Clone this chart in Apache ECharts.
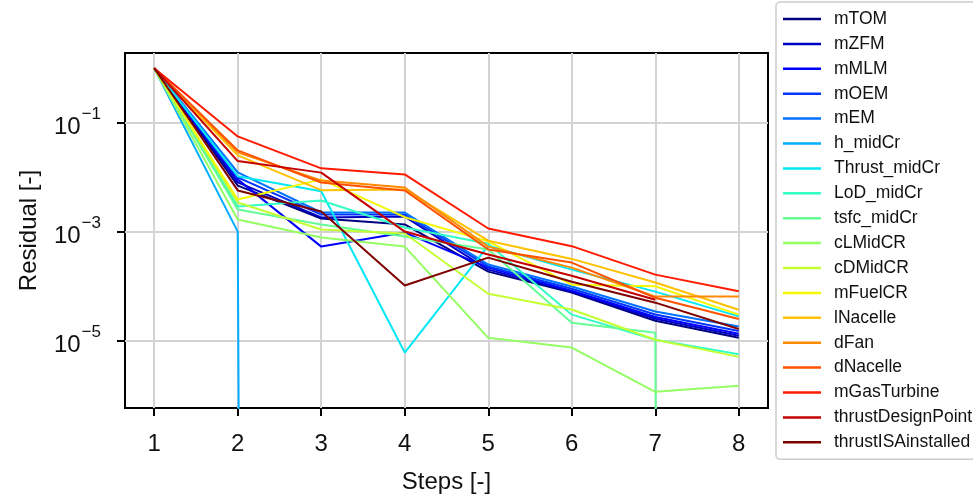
<!DOCTYPE html>
<html>
<head>
<meta charset="utf-8">
<script src="https://cdn.jsdelivr.net/npm/echarts@6/dist/echarts.min.js"></script>
<style>
  html, body { margin: 0; padding: 0; background: #ffffff; }
  #chart { width: 973px; height: 495px; }
</style>
</head>
<body>
<div id="chart"></div>
<script>
// Solver step index
const steps = [1, 2, 3, 4, 5, 6, 7, 8];

// Residual history per variable (a 0 means the residual vanished)
const mTOM              = [1, 7.0e-3, 1.74e-3, 1.35e-3, 1.84e-4, 7.6e-5, 2.3e-5, 1.12e-5];
const mZFM              = [1, 8.0e-3, 1.82e-3, 1.89e-3, 2.0e-4, 7.9e-5, 2.5e-5, 1.22e-5];
const mMLM              = [1, 9.1e-3, 5.3e-4, 9.6e-4, 2.18e-4, 8.2e-5, 2.7e-5, 1.33e-5];
const mOEM              = [1, 9.9e-3, 2.06e-3, 2.06e-3, 2.28e-4, 8.9e-5, 3.0e-5, 1.5e-5];
const mEM               = [1, 1.22e-2, 2.24e-3, 2.24e-3, 2.48e-4, 9.8e-5, 3.4e-5, 1.8e-5];
const h_midCr           = [1, 1.0e-3, 0];
const Thrust_midCr      = [1, 1.04e-2, 5.5e-3, 6.0e-6, 5.5e-4, 2.0e-4, 7.9e-5, 2.77e-5];
const LoD_midCr         = [1, 2.89e-3, 3.73e-3, 1.19e-3, 6.0e-4, 2.98e-5, 1.03e-5, 5.6e-6];
const tsfc_midCr        = [1, 2.55e-3, 1.35e-3, 8.1e-4, 4.7e-4, 2.12e-5, 1.39e-5, 0];
const cLMidCR           = [1, 1.67e-3, 7.8e-4, 5.3e-4, 1.12e-5, 7.4e-6, 1.14e-6, 1.47e-6];
const cDMidCR           = [1, 3.42e-3, 1.09e-3, 9.2e-4, 7.2e-5, 3.7e-5, 1.03e-5, 5.0e-6];
const mFuelCR           = [1, 3.89e-3, 9.1e-3, 1.84e-3, 6.6e-4, 1.06e-4, 9.9e-5, 2.98e-5];
const lNacelle          = [1, 2.51e-2, 5.77e-3, 5.94e-3, 6.8e-4, 3.15e-4, 1.16e-4, 3.68e-5];
const dFan              = [1, 2.85e-2, 8.7e-3, 6.46e-3, 5.3e-4, 2.18e-4, 6.4e-5, 6.4e-5];
const dNacelle          = [1, 3.1e-2, 7.98e-3, 5.7e-3, 4.7e-4, 2.7e-4, 6.1e-5, 2.48e-5];
const mGasTurbine       = [1, 5.6e-2, 1.45e-2, 1.12e-2, 1.14e-3, 5.4e-4, 1.62e-4, 8.0e-5];
const thrustDesignPoint = [1, 1.97e-2, 1.21e-2, 1.0e-3, 3.8e-4, 1.55e-4, 5.6e-5];
const thrustISAinstalled= [1, 5.7e-3, 2.34e-3, 1.02e-4, 3.33e-4, 1.2e-4, 4.95e-5, 1.63e-5];

const seriesNames = ['mTOM', 'mZFM', 'mMLM', 'mOEM', 'mEM', 'h_midCr', 'Thrust_midCr',
  'LoD_midCr', 'tsfc_midCr', 'cLMidCR', 'cDMidCR', 'mFuelCR', 'lNacelle', 'dFan',
  'dNacelle', 'mGasTurbine', 'thrustDesignPoint', 'thrustISAinstalled'];
const seriesValues = [mTOM, mZFM, mMLM, mOEM, mEM, h_midCr, Thrust_midCr, LoD_midCr,
  tsfc_midCr, cLMidCR, cDMidCR, mFuelCR, lNacelle, dFan, dNacelle, mGasTurbine,
  thrustDesignPoint, thrustISAinstalled];

// Jet colormap sampled at 18 evenly spaced points
const jetColors = ['#000080', '#0000c4', '#0000ff', '#0035ff', '#0071ff', '#00adff',
  '#02e8f4', '#33ffc4', '#63ff94', '#94ff63', '#c4ff33', '#f4f802', '#ffc100',
  '#ff8900', '#ff5200', '#ff1a00', '#c40000', '#800000'];

// Decade tick labels on the residual axis (exponents)
const yTickExponents = [-5, -3, -1];

// Residual axis is drawn in log10 space; non-positive values are clipped far below
const toLog = v => (v > 0 ? Math.log10(v) : -300);
const yLogMin = -6.24, yLogMax = 0.28;
const xMin = 0.65, xMax = 8.35;

const FONT = '"Liberation Sans", Arial, sans-serif';
const INK = '#111111';

const lineSeries = seriesNames.map((name, i) => ({
  name: name,
  type: 'line',
  data: seriesValues[i].map((v, k) => [steps[k], toLog(v)]),
  symbol: 'none',
  showSymbol: false,
  clip: true,
  z: 3,
  lineStyle: { color: jetColors[i], width: 2 },
  itemStyle: { color: jetColors[i] },
  emphasis: { disabled: true }
}));

// Grid lines at the labelled ticks, kept underneath the data lines
const gridSeries = {
  name: '__grid',
  type: 'line',
  data: [],
  z: 1,
  silent: true,
  markLine: {
    z: 1,
    silent: true,
    symbol: ['none', 'none'],
    animation: false,
    label: { show: false },
    lineStyle: { color: '#d3d3d3', width: 2, type: 'solid' },
    emphasis: { disabled: true },
    data: steps.map(s => ({ xAxis: s })).concat(yTickExponents.map(e => ({ yAxis: e })))
  }
};

const chart = echarts.init(document.getElementById('chart'), null, { renderer: 'canvas' });
chart.setOption({
  animation: false,
  backgroundColor: '#ffffff',
  textStyle: { fontFamily: FONT },
  grid: {
    left: 125, top: 53, right: 205, bottom: 87,
    containLabel: false,
    outerBoundsMode: 'none',
    show: true, borderColor: '#000000', borderWidth: 2, backgroundColor: 'transparent'
  },
  legend: {
    data: seriesNames,
    orient: 'vertical',
    left: 776, top: 2,
    padding: [8, 14, 8, 7],
    itemGap: 6.9,
    itemWidth: 38,
    itemHeight: 2.5,
    icon: 'path://M0,0 H38 V2.5 H0 Z',
    borderColor: '#cccccc',
    borderWidth: 1.5,
    borderRadius: 4,
    backgroundColor: '#ffffff',
    selectedMode: false,
    textStyle: { fontSize: 17.5, lineHeight: 17, color: INK, fontFamily: FONT, padding: [0, 0, 0, 8] }
  },
  xAxis: {
    type: 'value',
    min: xMin, max: xMax,
    name: 'Steps [-]',
    nameLocation: 'middle',
    nameGap: 62,
    nameTextStyle: { fontSize: 24, color: INK, fontFamily: FONT },
    axisLine: { show: true, onZero: false, lineStyle: { color: '#000000', width: 2 } },
    axisTick: { show: true, inside: false, length: 8, customValues: steps, lineStyle: { color: '#000000', width: 2 } },
    axisLabel: { show: true, margin: 24, fontSize: 24, color: INK, fontFamily: FONT, customValues: steps },
    splitLine: { show: false }
  },
  yAxis: {
    type: 'value',
    min: yLogMin, max: yLogMax,
    name: 'Residual [-]',
    nameLocation: 'middle',
    nameRotate: 90,
    nameGap: 84,
    nameTextStyle: { fontSize: 24, color: INK, fontFamily: FONT },
    axisLine: { show: true, onZero: false, lineStyle: { color: '#000000', width: 2 } },
    axisTick: { show: true, inside: false, length: 8, customValues: yTickExponents, lineStyle: { color: '#000000', width: 2 } },
    axisLabel: {
      show: true, margin: 24, customValues: yTickExponents,
      formatter: v => '{b|10}{s|\u2212' + Math.abs(Math.round(v)) + '}',
      rich: {
        b: { fontSize: 24, color: INK, fontFamily: FONT, lineHeight: 34, verticalAlign: 'bottom', padding: [14, 0, 0, 0] },
        s: { fontSize: 17, color: INK, fontFamily: FONT, lineHeight: 34, verticalAlign: 'top', padding: [0, 0, 12, 1] }
      }
    },
    splitLine: { show: false }
  },
  series: [gridSeries].concat(lineSeries)
});
</script>
</body>
</html>
